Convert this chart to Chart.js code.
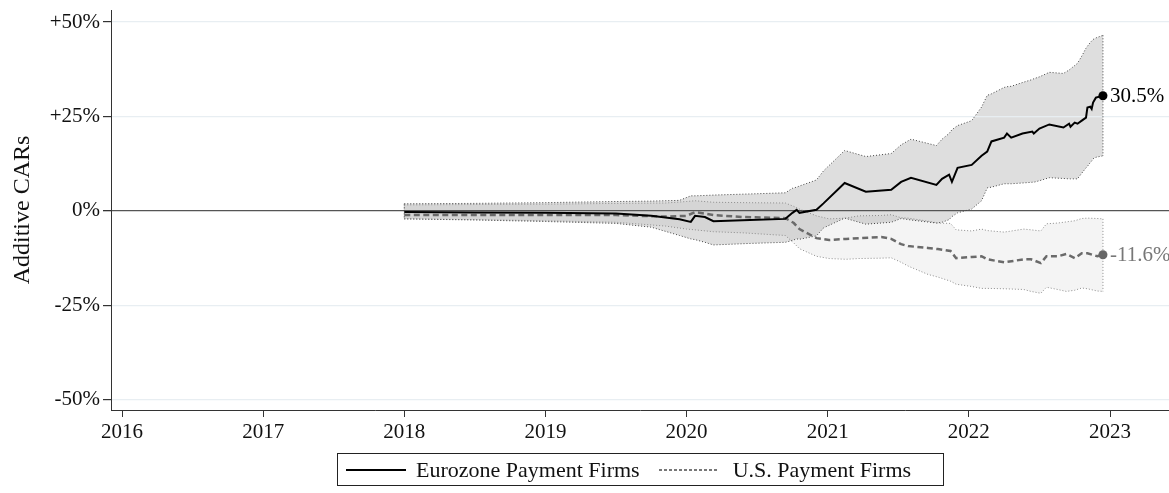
<!DOCTYPE html>
<html>
<head>
<meta charset="utf-8">
<script src="https://cdn.jsdelivr.net/npm/chart.js@4.4.1/dist/chart.umd.min.js"></script>
<style>
  html, body { margin: 0; padding: 0; background: #fff; }
  #wrap { position: relative; width: 1169px; height: 493px; }
  #legend {
    position: absolute; left: 337px; top: 453px; width: 607px; height: 33px;
    border: 1px solid #222; box-sizing: border-box;
    font: 22px "Liberation Serif", "Times New Roman", serif; color: #111;
    display: flex; align-items: center; white-space: nowrap;
  }
  .solid { display: inline-block; width: 60px; height: 2px; background: #000; margin: 0 10px 0 8px; }
  .dashed { display: inline-block; width: 60px; height: 2px; margin: 0 14px 0 19px;
    background: repeating-linear-gradient(to right, #777 0 3px, transparent 3px 5px); }
</style>
</head>
<body>
<div id="wrap">
  <canvas id="chart" width="1169" height="493"></canvas>
  <div id="legend">
    <span class="solid"></span>Eurozone Payment Firms
    <span class="dashed"></span>U.S. Payment Firms
  </div>
</div>
<script>
// axis ticks
const xTicks = [2016, 2017, 2018, 2019, 2020, 2021, 2022, 2023];
const yTicks = [-50, -25, 0, 25, 50];

// Eurozone payment firms: cumulative CAR (%) and its band
const euroDates = [2018.00, 2018.50, 2019.00, 2019.50, 2019.75, 2019.95, 2020.03, 2020.06, 2020.13, 2020.19,
  2020.45, 2020.70, 2020.75, 2020.78, 2020.80, 2020.92, 2020.97, 2021.12, 2021.27, 2021.45,
  2021.52, 2021.59, 2021.77, 2021.81, 2021.86, 2021.88, 2021.92, 2022.02, 2022.09, 2022.13,
  2022.16, 2022.25, 2022.27, 2022.30, 2022.38, 2022.45, 2022.46, 2022.50, 2022.57, 2022.67,
  2022.71, 2022.72, 2022.75, 2022.77, 2022.80, 2022.83, 2022.84, 2022.86, 2022.87, 2022.88,
  2022.90, 2022.95];
const euroCar = [-0.3, -0.4, -0.5, -0.7, -1.3, -2.2, -2.9, -1.3, -1.6, -2.7,
  -2.4, -2.1, -0.5, 0.3, -0.5, 0.3, 2.0, 7.4, 5.1, 5.6,
  7.7, 8.8, 6.9, 8.5, 9.6, 7.7, 11.4, 12.2, 14.6, 15.7,
  18.4, 19.4, 20.5, 19.4, 20.5, 21.0, 20.5, 21.8, 22.9, 22.1,
  23.1, 22.3, 23.4, 23.1, 23.9, 24.7, 27.4, 27.6, 27.0, 28.7,
  30.0, 30.5];
const euroUpper = [1.9, 2.0, 2.2, 2.5, 2.6, 2.8, 4.0, 4.0, 4.1, 4.2,
  4.5, 4.8, 6.0, 6.3, 6.6, 8.2, 10.6, 16.0, 14.4, 15.2,
  17.5, 19.0, 17.3, 19.0, 20.5, 21.5, 22.6, 23.9, 27.5, 30.6,
  31.0, 32.7, 32.9, 33.0, 34.0, 34.8, 35.0, 35.5, 36.7, 36.4,
  37.3, 37.6, 38.5, 39.1, 41.0, 43.1, 43.6, 44.6, 45.0, 45.4,
  45.8, 46.5];
const euroLower = [-2.1, -2.4, -2.8, -3.3, -4.3, -6.5, -7.4, -7.6, -8.3, -9.0,
  -8.6, -8.3, -7.8, -7.4, -7.5, -6.6, -4.5, -1.9, -3.5, -3.0,
  -2.0, -2.4, -3.2, -3.0, -2.3, -1.5, -0.5, 0.5, 2.7, 6.1,
  6.3, 7.2, 7.2, 7.2, 7.4, 7.6, 7.6, 8.0, 8.8, 8.6,
  8.5, 8.5, 8.5, 8.5, 10.0, 11.4, 11.8, 12.8, 13.2, 13.8,
  14.2, 14.6];

// U.S. payment firms
const usDates = [2018.00, 2018.50, 2019.00, 2019.50, 2019.85, 2020.00, 2020.06, 2020.19, 2020.40, 2020.70,
  2020.76, 2020.80, 2020.92, 2021.01, 2021.13, 2021.22, 2021.38, 2021.45, 2021.52, 2021.57,
  2021.71, 2021.78, 2021.87, 2021.91, 2022.02, 2022.09, 2022.13, 2022.25, 2022.39, 2022.44,
  2022.51, 2022.55, 2022.63, 2022.69, 2022.75, 2022.80, 2022.84, 2022.91, 2022.95];
const usCar = [-1.1, -1.1, -1.1, -1.1, -1.5, -1.3, -0.3, -1.1, -1.6, -1.9,
  -3.2, -4.8, -7.2, -7.7, -7.4, -7.2, -6.9, -7.4, -8.8, -9.3,
  -9.8, -10.1, -10.6, -12.5, -12.2, -12.0, -12.8, -13.6, -12.8, -12.8,
  -13.8, -12.0, -12.0, -11.4, -12.5, -11.2, -11.2, -12.0, -11.6];
const usUpper = [1.6, 1.7, 1.8, 2.0, 2.1, 2.5, 2.7, 2.3, 2.2, 2.1,
  1.2, 0.5, -1.3, -2.1, -1.9, -1.3, -1.2, -1.0, -1.8, -1.9,
  -2.7, -3.2, -3.3, -5.0, -5.3, -4.8, -5.2, -5.6, -4.8, -5.0,
  -5.3, -3.4, -3.2, -2.9, -2.6, -2.0, -1.9, -2.0, -2.1];
const usLower = [-2.1, -2.3, -2.6, -3.0, -4.0, -4.8, -5.0, -5.5, -5.8, -6.5,
  -8.5, -10.0, -12.0, -12.6, -12.8, -12.6, -12.5, -12.4, -13.6, -14.6,
  -16.8, -17.5, -18.6, -19.4, -20.0, -20.5, -20.5, -20.6, -20.8, -21.3,
  -21.8, -20.2, -20.8, -21.3, -21.0, -20.4, -20.6, -21.2, -21.3];

const FONT = '"Liberation Serif", "Times New Roman", serif';
Chart.defaults.font.family = FONT;
Chart.defaults.color = '#111';

const pts = (xs, ys) => xs.map((x, i) => ({ x: x, y: ys[i] }));
const edge = (x, a, b) => [{ x: x, y: a }, { x: x, y: b }];
const lastDot = (n) => (c) => (c.dataIndex === n - 1 ? 4.5 : 0);

function bandEdge(data, color) {
  return { data: data, borderColor: color, borderWidth: 1, borderDash: [1, 2], pointRadius: 0, fill: false };
}

// "30.5%" / "-11.6%" next to the end points
const endLabels = {
  id: 'endLabels',
  afterDatasetsDraw(chart) {
    const ctx = chart.ctx;
    ctx.save();
    ctx.font = '21px ' + FONT;
    ctx.textBaseline = 'middle';
    ctx.textAlign = 'left';
    [[0, '#000'], [1, '#777']].forEach(([i, col]) => {
      const ds = chart.data.datasets[i];
      const p = chart.getDatasetMeta(i).data[ds.data.length - 1];
      ctx.fillStyle = col;
      ctx.fillText(ds.data[ds.data.length - 1].y.toFixed(1) + '%', p.x + 7, p.y + 1);
    });
    ctx.restore();
  }
};

const euroN = euroDates.length, usN = usDates.length;

new Chart(document.getElementById('chart'), {
  type: 'line',
  data: {
    datasets: [
      { label: 'Eurozone Payment Firms', data: pts(euroDates, euroCar), borderColor: '#000', backgroundColor: '#000',
        borderWidth: 2, pointRadius: lastDot(euroN), pointBorderWidth: 0, fill: false },
      { label: 'U.S. Payment Firms', data: pts(usDates, usCar), borderColor: '#6a6a6a', backgroundColor: '#666',
        borderWidth: 2.5, borderDash: [6, 3.5], pointRadius: lastDot(usN), pointBorderWidth: 0, fill: false },
      Object.assign(bandEdge(pts(euroDates, euroUpper), '#444'), { fill: '+1', backgroundColor: 'rgba(0,0,0,0.13)' }),
      bandEdge(pts(euroDates, euroLower), '#444'),
      Object.assign(bandEdge(pts(usDates, usUpper), '#8a8a8a'), { fill: '+1', backgroundColor: 'rgba(0,0,0,0.045)' }),
      bandEdge(pts(usDates, usLower), '#8a8a8a'),
      bandEdge(edge(euroDates[0], euroUpper[0], euroLower[0]), '#444'),
      bandEdge(edge(euroDates[euroN - 1], euroUpper[euroN - 1], euroLower[euroN - 1]), '#444'),
      bandEdge(edge(usDates[0], usUpper[0], usLower[0]), '#8a8a8a'),
      bandEdge(edge(usDates[usN - 1], usUpper[usN - 1], usLower[usN - 1]), '#8a8a8a')
    ]
  },
  options: {
    responsive: false,
    animation: false,
    events: [],
    layout: { autoPadding: false, padding: { top: 10, right: 0, left: 0, bottom: 0 } },
    plugins: {
      legend: { display: false },
      tooltip: { enabled: false },
      filler: { drawTime: 'beforeDraw' }
    },
    scales: {
      x: {
        type: 'linear',
        min: 2015.922,
        max: 2023.418,
        afterBuildTicks: (s) => { s.ticks = xTicks.map(v => ({ value: v })); },
        afterFit: (s) => { s.height = 83; s.paddingLeft = 0; s.paddingRight = 0; },
        ticks: { font: { size: 21 }, color: '#111', padding: 3, maxRotation: 0, callback: (v) => String(v) },
        grid: { drawOnChartArea: false, tickLength: 7, tickColor: '#333' },
        border: { color: '#333', width: 1 }
      },
      y: {
        min: -52.7,
        max: 53.2,
        afterBuildTicks: (s) => { s.ticks = yTicks.map(v => ({ value: v })); },
        afterFit: (s) => { s.width = 111; s.paddingTop = 0; s.paddingBottom = 0; },
        ticks: { font: { size: 21 }, color: '#111', padding: 3,
          callback: (v) => (v > 0 ? '+' : '') + v + '%' },
        grid: {
          color: (c) => (c.tick && c.tick.value === 0 ? '#555' : '#e8eef2'),
          lineWidth: (c) => (c.tick && c.tick.value === 0 ? 1.3 : 1.2),
          tickLength: 8, tickColor: '#333'
        },
        border: { color: '#333', width: 1 },
        title: { display: true, text: 'Additive CARs', font: { size: 24 }, color: '#111', padding: { top: 8, bottom: 4 } }
      }
    }
  },
  plugins: [endLabels]
});
</script>
</body>
</html>
